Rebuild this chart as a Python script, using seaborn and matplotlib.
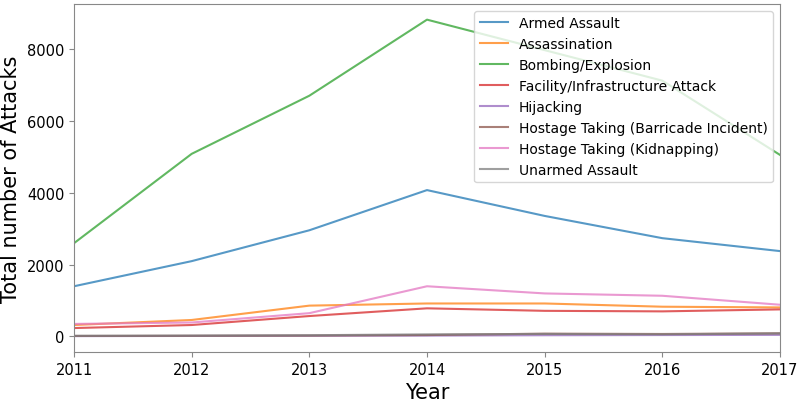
import matplotlib
matplotlib.use("Agg")
import matplotlib.pyplot as plt
import seaborn as sns
import pandas as pd

years = [2011, 2012, 2013, 2014, 2015, 2016, 2017]

armed_assault = [1400, 2100, 2960, 4080, 3360, 2740, 2380]
assassination = [320, 460, 860, 920, 920, 830, 810]
bombing = [2600, 5090, 6710, 8830, 7980, 7130, 5060]
facility = [235, 320, 570, 785, 715, 700, 755]
hijacking = [10, 15, 20, 25, 35, 40, 45]
barricade = [15, 20, 25, 40, 80, 70, 90]
kidnapping = [350, 390, 650, 1400, 1200, 1135, 885]
unarmed = [20, 25, 35, 60, 70, 60, 85]

attack_types = {
    'Armed Assault': armed_assault,
    'Assassination': assassination,
    'Bombing/Explosion': bombing,
    'Facility/Infrastructure Attack': facility,
    'Hijacking': hijacking,
    'Hostage Taking (Barricade Incident)': barricade,
    'Hostage Taking (Kidnapping)': kidnapping,
    'Unarmed Assault': unarmed,
}

df = pd.DataFrame(attack_types, index=years)
df.index.name = 'Year'
long_df = df.reset_index().melt(id_vars='Year', var_name='attacktype', value_name='count')

fig, ax = plt.subplots(figsize=(8, 4.02), dpi=100)
sns.lineplot(data=long_df, x='Year', y='count', hue='attacktype',
             palette='tab10', alpha=0.75, linewidth=1.5, ax=ax)

ax.set_xlim(2011, 2017)
ax.set_xticks(years)
ax.set_xlabel('Year', fontsize=15)
ax.set_ylabel('Total number of Attacks', fontsize=15)
ax.tick_params(labelsize=10.5, color='#888888')
for s in ax.spines.values():
    s.set_color('#888888')

leg = ax.legend(loc='upper right', fontsize=10)
leg.set_title(None)

fig.subplots_adjust(left=0.0925, right=0.975, top=0.988, bottom=0.122)
plt.savefig('out.png')
